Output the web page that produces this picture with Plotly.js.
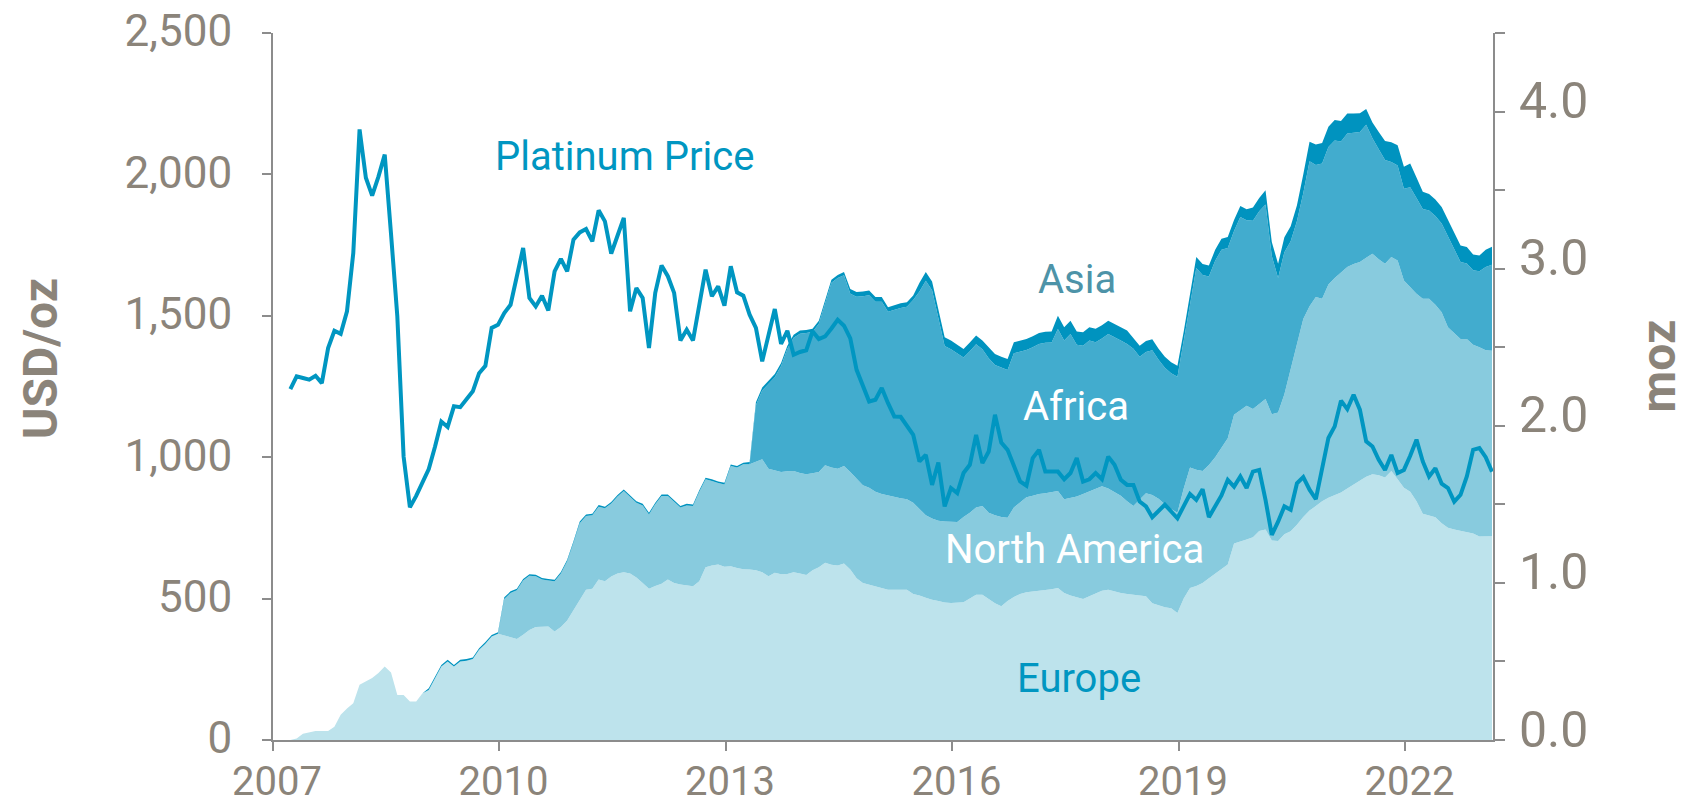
<!DOCTYPE html>
<html>
<head>
<meta charset="utf-8">
<script src="https://cdn.plot.ly/plotly-3.0.1.min.js"></script>
<style>
html,body{margin:0;padding:0;background:#ffffff;}
#chart{width:1701px;height:806px;}
</style>
</head>
<body>
<div id="chart"></div>
<script>
// Monthly observations, first month = March 2007 (decimal year), one step per month
const firstMonth = 2007.23;
const monthStep = 1 / 12;

// Platinum price, USD/oz (left axis)
const platinumPrice = [
  1241,1286,1280,1274,1288,1262,1386,1447,1436,1516,1722,2159,
  1988,1925,1992,2070,1790,1498,1002,823,863,911,958,1038,
  1126,1107,1180,1177,1205,1233,1297,1323,1457,1468,1510,1539,
  1640,1740,1563,1533,1571,1519,1657,1701,1657,1769,1795,1807,
  1763,1873,1834,1720,1783,1846,1516,1598,1563,1386,1581,1678,
  1640,1581,1413,1451,1413,1540,1663,1569,1604,1536,1675,1583,
  1571,1504,1457,1339,1430,1524,1401,1447,1362,1372,1378,1445,
  1418,1427,1455,1486,1465,1420,1309,1250,1197,1203,1245,1191,
  1144,1143,1110,1079,985,1008,902,981,826,891,873,944,
  973,1079,979,1020,1150,1052,1026,967,914,899,997,1026,
  949,949,949,922,944,997,914,922,944,922,1002,973,
  920,902,902,843,826,788,810,832,808,784,827,870,
  849,887,788,830,865,920,896,932,891,949,955,849,
  725,772,826,814,908,930,885,852,967,1068,1109,1200,
  1170,1221,1168,1056,1038,991,955,1008,944,955,1005,1062,
  985,932,961,906,891,843,867,932,1026,1032,1000,949
];

// Holdings by region, moz (right axis), stacked
const europe = [
  0,0.01,0.04,0.05,0.057,0.057,0.058,0.085,0.16,0.2,0.234,0.351,
  0.37,0.394,0.426,0.468,0.43,0.287,0.287,0.245,0.245,0.298,0.319,0.39,
  0.468,0.5,0.468,0.5,0.505,0.515,0.574,0.613,0.659,0.676,0.665,0.655,
  0.643,0.67,0.7,0.72,0.723,0.723,0.691,0.72,0.76,0.825,0.893,0.957,
  0.962,1.021,1.01,1.04,1.06,1.068,1.06,1.035,1.0,0.962,0.98,0.995,
  1.021,1.0,0.989,0.985,0.979,1.01,1.1,1.11,1.117,1.102,1.106,1.095,
  1.087,1.085,1.08,1.068,1.042,1.064,1.055,1.057,1.068,1.06,1.05,1.08,
  1.1,1.128,1.115,1.11,1.123,1.085,1.03,1.0,0.989,0.98,0.97,0.957,
  0.957,0.957,0.957,0.93,0.92,0.905,0.892,0.885,0.875,0.872,0.873,0.876,
  0.9,0.925,0.925,0.9,0.87,0.851,0.885,0.91,0.93,0.94,0.945,0.946,
  0.955,0.96,0.968,0.936,0.92,0.91,0.898,0.915,0.93,0.95,0.957,0.945,
  0.936,0.93,0.925,0.92,0.915,0.87,0.855,0.845,0.838,0.808,0.9,0.968,
  0.98,1.0,1.03,1.06,1.09,1.117,1.25,1.265,1.276,1.29,1.33,1.34,
  1.27,1.266,1.31,1.329,1.37,1.42,1.46,1.49,1.52,1.542,1.56,1.575,
  1.6,1.625,1.655,1.675,1.691,1.685,1.67,1.712,1.66,1.606,1.58,1.52,
  1.44,1.43,1.418,1.38,1.351,1.34,1.333,1.325,1.315,1.295,1.294,1.297
];
const northAmerica = [
  0,0,0,0,0,0,0,0,0,0,0,0,
  0,0,0,0,0,0,0,0,0,0,0,0,
  0,0,0,0,0,0,0,0,0,0,0.233,0.281,
  0.31,0.345,0.345,0.322,0.298,0.292,0.319,0.34,0.378,0.43,0.487,0.468,
  0.468,0.464,0.465,0.465,0.49,0.517,0.49,0.475,0.493,0.474,0.52,0.558,
  0.532,0.515,0.491,0.508,0.51,0.57,0.559,0.539,0.518,0.525,0.638,0.639,
  0.668,0.67,0.69,0.719,0.685,0.651,0.651,0.653,0.644,0.64,0.641,0.618,
  0.606,0.621,0.62,0.617,0.621,0.621,0.63,0.621,0.617,0.6,0.595,0.598,
  0.588,0.581,0.575,0.58,0.55,0.525,0.518,0.51,0.515,0.516,0.514,0.544,
  0.547,0.555,0.565,0.547,0.56,0.569,0.53,0.57,0.585,0.605,0.61,0.619,
  0.615,0.618,0.617,0.596,0.62,0.64,0.667,0.665,0.665,0.665,0.643,0.635,
  0.619,0.59,0.564,0.61,0.655,0.69,0.68,0.655,0.632,0.639,0.7,0.766,
  0.74,0.712,0.72,0.74,0.77,0.803,0.82,0.835,0.851,0.816,0.81,0.83,
  0.804,0.819,0.89,1.032,1.14,1.26,1.3,1.329,1.288,1.358,1.38,1.4,
  1.41,1.405,1.387,1.395,1.404,1.375,1.361,1.362,1.392,1.319,1.3,1.32,
  1.368,1.378,1.352,1.343,1.276,1.25,1.22,1.228,1.2,1.205,1.186,1.181
];
const africa = [
  0,0,0,0,0,0,0,0,0,0,0,0,
  0,0,0,0,0,0,0,0,0,0,0,0,
  0,0,0,0,0,0,0,0,0,0,0,0,
  0,0,0,0,0,0,0,0,0,0,0,0,
  0,0,0,0,0,0,0,0,0,0,0,0,
  0,0,0,0,0,0,0,0,0,0,0,0,
  0,0,0.36,0.437,0.543,0.594,0.674,0.78,0.848,0.886,0.899,0.899,
  0.943,1.031,1.175,1.213,1.214,1.134,1.161,1.204,1.225,1.209,1.224,1.17,
  1.195,1.212,1.225,1.29,1.385,1.493,1.453,1.28,1.118,1.099,1.073,1.014,
  1.028,1.039,0.997,0.983,0.957,0.95,0.94,0.981,0.955,0.938,0.945,0.955,
  0.958,0.952,1.031,1.01,1.044,0.965,0.945,0.962,0.937,0.94,0.984,0.985,
  0.987,1.001,1.001,0.91,0.9,0.92,0.885,0.87,0.864,0.865,0.93,1.036,
  1.284,1.248,1.2,1.25,1.261,1.212,1.17,1.229,1.181,1.199,1.225,1.239,
  1.006,0.856,0.905,0.814,0.793,0.8,0.923,0.841,0.862,0.874,0.876,0.835,
  0.85,0.833,0.828,0.846,0.735,0.7,0.661,0.605,0.604,0.583,0.639,0.61,
  0.571,0.562,0.565,0.565,0.576,0.535,0.49,0.48,0.475,0.484,0.53,0.547
];
const asia = [
  0,0,0,0,0,0,0,0,0,0,0,0,
  0,0,0,0,0,0,0,0,0,0,0.01,0.01,
  0.01,0.01,0.01,0.01,0.01,0.01,0.01,0.01,0.01,0.01,0.01,0.01,
  0.01,0.01,0.01,0.01,0.01,0.01,0.01,0.01,0.01,0.01,0.01,0.01,
  0.01,0.01,0.01,0.01,0.01,0.01,0.01,0.01,0.01,0.01,0.01,0.01,
  0.01,0.01,0.01,0.01,0.01,0.01,0.01,0.01,0.01,0.01,0.01,0.01,
  0.01,0.015,0.02,0.02,0.02,0.02,0.02,0.02,0.02,0.02,0.02,0.02,
  0.02,0.02,0.02,0.02,0.02,0.03,0.03,0.03,0.03,0.03,0.03,0.03,
  0.03,0.03,0.03,0.03,0.055,0.055,0.055,0.055,0.055,0.055,0.055,0.055,
  0.055,0.055,0.055,0.07,0.07,0.07,0.07,0.07,0.07,0.07,0.07,0.07,
  0.07,0.07,0.085,0.085,0.085,0.085,0.085,0.085,0.085,0.085,0.085,0.085,
  0.085,0.085,0.07,0.07,0.07,0.07,0.07,0.07,0.07,0.07,0.07,0.07,
  0.07,0.07,0.07,0.07,0.07,0.07,0.07,0.07,0.07,0.085,0.085,0.09,
  0.09,0.09,0.095,0.095,0.1,0.12,0.125,0.13,0.13,0.13,0.13,0.13,
  0.128,0.125,0.12,0.1,0.1,0.11,0.12,0.125,0.13,0.14,0.15,0.13,
  0.11,0.105,0.105,0.105,0.105,0.105,0.105,0.105,0.1,0.1,0.11,0.115
];

// Axis ticks
const xTickVals = [2007, 2010, 2013, 2016, 2019, 2022];
const xTickText = ['2007', '2010', '2013', '2016', '2019', '2022'];
const priceTickVals = [0, 500, 1000, 1500, 2000, 2500];
const mozTickVals = [0, 0.5, 1, 1.5, 2, 2.5, 3, 3.5, 4, 4.5];
const mozTickText = ['0.0', '', '1.0', '', '2.0', '', '3.0', '', '4.0', ''];

// Series labels (placed in data coordinates: year, USD/oz)
const seriesLabels = [
  {text: 'Platinum Price', x: 2011.66, y: 2063, color: '#0096c1'},
  {text: 'Asia', x: 2017.65, y: 1628, color: '#4d93a8'},
  {text: 'Africa', x: 2017.64, y: 1180, color: '#ffffff'},
  {text: 'North America', x: 2017.61, y: 672, color: '#ffffff'},
  {text: 'Europe', x: 2017.68, y: 216, color: '#0096c1'}
];

const textGray = '#8b847a';
const axisGray = '#8c8c8c';
const FONT = 'Roboto, "DejaVu Sans", sans-serif';

function area(name, values, color) {
  return {
    type: 'scatter', mode: 'lines', name: name,
    x0: firstMonth, dx: monthStep, y: values,
    stackgroup: 'holdings', xaxis: 'x', yaxis: 'y',
    line: {width: 0, color: color}, fillcolor: color,
    hoverinfo: 'skip'
  };
}

const traces = [
  area('Europe', europe, '#bde3ec'),
  area('North America', northAmerica, '#88cbde'),
  area('Africa', africa, '#42acce'),
  area('Asia', asia, '#0093bf'),
  {
    type: 'scatter', mode: 'lines', name: 'Platinum Price',
    x0: firstMonth, dx: monthStep, y: platinumPrice,
    xaxis: 'x', yaxis: 'y2',
    line: {color: '#0096c1', width: 4, shape: 'linear'},
    hoverinfo: 'skip'
  }
];

const annotations = seriesLabels.map(l => ({
  text: l.text, x: l.x, y: l.y, xref: 'x', yref: 'y2',
  xanchor: 'center', yanchor: 'middle', showarrow: false,
  font: {family: FONT, size: 40, color: l.color}
}));
annotations.push({
  text: 'USD/oz', xref: 'paper', yref: 'paper', x: -0.1906, y: 0.5393,
  xanchor: 'center', yanchor: 'middle', showarrow: false, textangle: -90,
  font: {family: FONT, size: 48, color: textGray, weight: 700}
});
annotations.push({
  text: 'moz', xref: 'paper', yref: 'paper', x: 1.1358, y: 0.5294,
  xanchor: 'center', yanchor: 'middle', showarrow: false, textangle: -90,
  font: {family: FONT, size: 48, color: textGray, weight: 700}
});

const commonAxis = {
  showgrid: false, zeroline: false, showline: true,
  linecolor: axisGray, linewidth: 2,
  ticks: 'outside', tickcolor: axisGray, tickwidth: 2,
  fixedrange: true
};

const layout = {
  width: 1701, height: 806,
  margin: {l: 273, r: 208, t: 33, b: 66, pad: 0},
  paper_bgcolor: '#ffffff', plot_bgcolor: '#ffffff',
  showlegend: false,
  font: {family: FONT, color: textGray},
  xaxis: Object.assign({}, commonAxis, {
    range: [2007, 2023.16],
    tickmode: 'array', tickvals: xTickVals, ticktext: xTickText,
    ticklen: 9, ticklabelstandoff: -4, ticklabelshift: 4,
    tickfont: {family: FONT, size: 40, color: textGray}
  }),
  yaxis: Object.assign({}, commonAxis, {
    side: 'right', range: [0, 4.5],
    tickmode: 'array', tickvals: mozTickVals, ticktext: mozTickText,
    ticklen: 10, ticklabelstandoff: 4, ticklabelshift: -11,
    tickfont: {family: FONT, size: 50, color: textGray}
  }),
  yaxis2: Object.assign({}, commonAxis, {
    side: 'left', overlaying: 'y', range: [0, 2500],
    tickmode: 'array', tickvals: priceTickVals, tickformat: ',d',
    ticklen: 9, ticklabelstandoff: 21, ticklabelshift: -2,
    tickfont: {family: FONT, size: 44, color: textGray}
  }),
  annotations: annotations
};

Plotly.newPlot('chart', traces, layout, {displayModeBar: false, staticPlot: true});
</script>
</body>
</html>
